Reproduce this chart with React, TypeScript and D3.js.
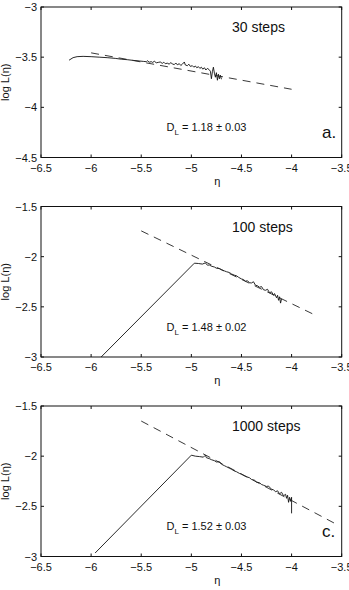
import React from 'react';
import * as d3 from 'd3';

// x ticks shared by every panel
const xTicks = [-6.5, -6, -5.5, -5, -4.5, -4, -3.5];
const yTicksA = [-3, -3.5, -4, -4.5];
const yTicksBC = [-1.5, -2, -2.5, -3];

const stepsLabels = ['30 steps', '100 steps', '1000 steps'];
const dValues = ['1.18 ± 0.03', '1.48 ± 0.02', '1.52 ± 0.03'];
const panelTags = ['a.', '', 'c.'];

// fitted slopes (dashed) as end points [eta, logL]
const fitA = [[-6, -3.457], [-4, -3.82]];
const fitB = [[-5.5, -1.743], [-3.79, -2.57]];
const fitC = [[-5.5, -1.65], [-3.55, -2.68]];

// measured curves [eta, logL]
const curveA = [
  [-6.22, -3.53], [-6.18, -3.505], [-6.14, -3.495], [-6.08, -3.492], [-6.0, -3.495],
  [-5.92, -3.5], [-5.84, -3.505], [-5.76, -3.512], [-5.7, -3.52], [-5.64, -3.525],
  [-5.58, -3.532], [-5.52, -3.538], [-5.48, -3.542], [-5.45, -3.545], [-5.44, -3.535],
  [-5.42, -3.55], [-5.4, -3.545], [-5.385, -3.553], [-5.37, -3.54], [-5.35, -3.556],
  [-5.33, -3.552], [-5.31, -3.548], [-5.29, -3.562], [-5.275, -3.55], [-5.26, -3.565],
  [-5.24, -3.56], [-5.22, -3.57], [-5.205, -3.553], [-5.19, -3.568], [-5.17, -3.574],
  [-5.155, -3.558], [-5.14, -3.576], [-5.12, -3.565], [-5.105, -3.583], [-5.09, -3.57],
  [-5.07, -3.548], [-5.06, -3.578], [-5.04, -3.585], [-5.025, -3.57], [-5.01, -3.592],
  [-4.99, -3.585], [-4.975, -3.6], [-4.96, -3.588], [-4.945, -3.606], [-4.93, -3.594],
  [-4.915, -3.612], [-4.9, -3.6], [-4.885, -3.62], [-4.87, -3.605], [-4.855, -3.628],
  [-4.84, -3.612], [-4.825, -3.622], [-4.81, -3.64], [-4.8, -3.715], [-4.79, -3.645],
  [-4.78, -3.6], [-4.77, -3.66], [-4.76, -3.7], [-4.75, -3.655], [-4.74, -3.73],
  [-4.73, -3.67], [-4.72, -3.715], [-4.71, -3.68], [-4.7, -3.72],
];

const curveB = [
  [-5.9, -3.0], [-4.97, -2.065], [-4.93, -2.068], [-4.89, -2.074], [-4.86, -2.062],
  [-4.84, -2.085], [-4.82, -2.083], [-4.8, -2.095], [-4.77, -2.103], [-4.75, -2.115],
  [-4.72, -2.118], [-4.7, -2.13], [-4.67, -2.142], [-4.65, -2.15], [-4.62, -2.158],
  [-4.6, -2.172], [-4.57, -2.185], [-4.55, -2.19], [-4.53, -2.205], [-4.5, -2.222],
  [-4.48, -2.228], [-4.46, -2.245], [-4.44, -2.24], [-4.42, -2.26], [-4.4, -2.262],
  [-4.38, -2.25], [-4.36, -2.285], [-4.34, -2.29], [-4.32, -2.305], [-4.3, -2.298],
  [-4.28, -2.33], [-4.26, -2.335], [-4.24, -2.325], [-4.22, -2.36], [-4.2, -2.35],
  [-4.18, -2.385], [-4.17, -2.368], [-4.15, -2.41], [-4.14, -2.385], [-4.13, -2.435],
  [-4.12, -2.4], [-4.11, -2.463], [-4.1, -2.42],
];

const curveC = [
  [-5.96, -2.965], [-5.0, -1.99], [-4.96, -2.0], [-4.92, -2.004], [-4.88, -2.01],
  [-4.86, -1.99], [-4.85, -2.015], [-4.82, -2.025], [-4.8, -2.035], [-4.77, -2.045],
  [-4.75, -2.058], [-4.72, -2.055], [-4.7, -2.08], [-4.67, -2.095], [-4.65, -2.105],
  [-4.62, -2.12], [-4.6, -2.13], [-4.57, -2.148], [-4.55, -2.155], [-4.52, -2.172],
  [-4.5, -2.18], [-4.47, -2.196], [-4.45, -2.205], [-4.42, -2.215], [-4.4, -2.232],
  [-4.37, -2.24], [-4.35, -2.258], [-4.32, -2.265], [-4.3, -2.282], [-4.28, -2.29],
  [-4.25, -2.302], [-4.23, -2.298], [-4.2, -2.33], [-4.18, -2.335], [-4.16, -2.355],
  [-4.14, -2.345], [-4.12, -2.375], [-4.1, -2.36], [-4.08, -2.395], [-4.06, -2.38],
  [-4.05, -2.42], [-4.04, -2.39], [-4.03, -2.46], [-4.02, -2.41], [-4.01, -2.45],
  [-4.0, -2.41], [-4.0, -2.57],
];

const W = 349;
const H = 590;
const left = 41;
const plotW = 300.7;
const plotH = 150.5;
const tops = [7, 206.5, 406];

const font = '"Liberation Sans", Arial, sans-serif';

function Panel({ top, yDomain, yTicks, curve, fit, steps, dval, tag }) {
  const x = d3.scaleLinear().domain([-6.5, -3.5]).range([left, left + plotW]);
  const y = d3.scaleLinear().domain(yDomain).range([top + plotH, top]);
  const line = d3.line().x(d => x(d[0])).y(d => y(d[1]));
  const tl = 3;
  return (
    <g fontFamily={font}>
      <path d={line(curve)} fill="none" stroke="#111" strokeWidth={0.9} />
      <path d={line(fit)} fill="none" stroke="#222" strokeWidth={0.9} strokeDasharray="8,6" />
      <rect x={left} y={top} width={plotW} height={plotH} fill="none" stroke="#111" strokeWidth={1} />
      {xTicks.map(t => (
        <g key={'x' + t}>
          <line x1={x(t)} x2={x(t)} y1={top + plotH} y2={top + plotH - tl} stroke="#111" />
          <line x1={x(t)} x2={x(t)} y1={top} y2={top + tl} stroke="#111" />
          <text x={x(t)} y={top + plotH + 14} fontSize={11} textAnchor="middle" fill="#111">
            {d3.format('')(t).replace('-', '\u2212')}
          </text>
        </g>
      ))}
      {yTicks.map(t => (
        <g key={'y' + t}>
          <line x1={left} x2={left + tl} y1={y(t)} y2={y(t)} stroke="#111" />
          <line x1={left + plotW} x2={left + plotW - tl} y1={y(t)} y2={y(t)} stroke="#111" />
          <text x={left - 4} y={y(t) + 4} fontSize={11} textAnchor="end" fill="#111">
            {d3.format('')(t).replace('-', '\u2212')}
          </text>
        </g>
      ))}
      <text x={x(-4.75) + 1} y={top + plotH + 27} fontSize={11} textAnchor="middle" fill="#111">η</text>
      <text transform={`translate(9,${top + plotH / 2}) rotate(-90)`} fontSize={11} textAnchor="middle" fill="#111">
        log L(η)
      </text>
      <text x={232} y={top + 25} fontSize={14} fill="#111">{steps}</text>
      <text x={166.5} y={top + 124} fontSize={11} fill="#111">
        D<tspan dy={4} fontSize={8}>L</tspan><tspan dy={-4}>{' = ' + dval}</tspan>
      </text>
      {tag && <text x={322} y={top + 131} fontSize={17} fill="#111">{tag}</text>}
    </g>
  );
}

export default function App() {
  return (
    <div>
      <style>{'body{margin:0}'}</style>
      <svg width={W} height={H} style={{ display: 'block', background: '#fff' }}>
        <Panel top={tops[0]} yDomain={[-4.5, -3]} yTicks={yTicksA} curve={curveA} fit={fitA}
          steps={stepsLabels[0]} dval={dValues[0]} tag={panelTags[0]} />
        <Panel top={tops[1]} yDomain={[-3, -1.5]} yTicks={yTicksBC} curve={curveB} fit={fitB}
          steps={stepsLabels[1]} dval={dValues[1]} tag={panelTags[1]} />
        <Panel top={tops[2]} yDomain={[-3, -1.5]} yTicks={yTicksBC} curve={curveC} fit={fitC}
          steps={stepsLabels[2]} dval={dValues[2]} tag={panelTags[2]} />
      </svg>
    </div>
  );
}
